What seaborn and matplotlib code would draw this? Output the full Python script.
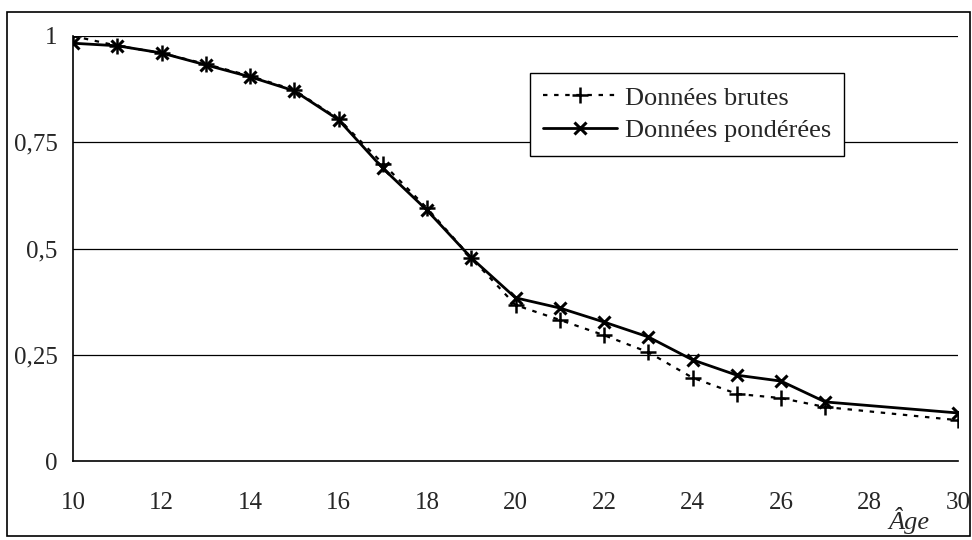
import numpy as np
import pandas as pd
import matplotlib.pyplot as plt
import seaborn as sns
from matplotlib.patches import Rectangle

# Values
ages = [10, 11, 12, 13, 14, 15, 16, 17, 18, 19, 20, 21, 22, 23, 24, 25, 26, 27, 30]
brutes = [1.0, 0.977, 0.96, 0.934, 0.906, 0.873, 0.805, 0.70, 0.595, 0.478,
          0.367, 0.332, 0.296, 0.256, 0.196, 0.158, 0.148, 0.127, 0.096]
ponderees = [0.983, 0.977, 0.96, 0.932, 0.904, 0.871, 0.803, 0.689, 0.59, 0.478,
             0.384, 0.36, 0.327, 0.292, 0.238, 0.202, 0.188, 0.139, 0.113]
y_ticks = [0, 0.25, 0.5, 0.75, 1]
y_labels = ["0", "0,25", "0,5", "0,75", "1"]
x_ticks = [10, 12, 14, 16, 18, 20, 22, 24, 26, 28, 30]

df = pd.DataFrame({"Âge": ages, "brutes": brutes, "ponderees": ponderees})

sns.set_style("white")
plt.rcParams['font.family'] = ['Liberation Serif', 'DejaVu Serif']

fig = plt.figure(figsize=(9.72, 5.4), dpi=100)
ax = fig.add_axes([73 / 972, 1 - 461 / 540, (958 - 73) / 972, (461 - 36) / 540])

# outer frame around the whole picture
fig.patches.append(Rectangle((7 / 972, 4 / 540), 963 / 972, 524 / 540,
                             transform=fig.transFigure, fill=False,
                             edgecolor='black', linewidth=1.2))

for yv in y_ticks[1:]:
    ax.axhline(yv, color='black', linewidth=0.9, zorder=1)

sns.lineplot(data=df, x="Âge", y="brutes", ax=ax, color='black', linewidth=1.6,
             linestyle=(0, (2, 3)), marker='+', markersize=11, markeredgewidth=1.8,
             markeredgecolor='black', label="Données brutes", zorder=3)
sns.lineplot(data=df, x="Âge", y="ponderees", ax=ax, color='black', linewidth=2.0,
             marker='x', markersize=9, markeredgewidth=2.2,
             markeredgecolor='black', label="Données pondérées", zorder=4)

ax.set_xlim(10, 30)
ax.set_ylim(0, 1)
ax.set_xticks(x_ticks)
ax.set_xticklabels([str(t) for t in x_ticks], fontsize=18)
ax.set_yticks(y_ticks)
ax.set_yticklabels(y_labels, fontsize=18)
ax.tick_params(axis='x', direction='out', length=6, width=1, color='black', pad=16)
ax.tick_params(axis='y', direction='out', length=7, width=1, color='black', pad=4)
ax.set_xlabel("")
ax.set_ylabel("")

for side in ['top', 'right']:
    ax.spines[side].set_visible(False)
for side in ['left', 'bottom']:
    ax.spines[side].set_color('black')
    ax.spines[side].set_linewidth(1.2)

fig.text(930 / 972, 1 - 521 / 540, "Âge", fontsize=19, style='italic',
         ha='right', va='center')

leg = ax.legend(loc='upper left', bbox_to_anchor=((530 - 73) / 885, 1 - (73 - 36) / 425),
                fontsize=19, frameon=True, fancybox=False, edgecolor='black',
                framealpha=1, handlelength=2.8, handletextpad=0.3,
                borderpad=0.5, labelspacing=0.35, borderaxespad=0)
leg.get_frame().set_linewidth(1.0)

fig.savefig("out.png", dpi=100)
